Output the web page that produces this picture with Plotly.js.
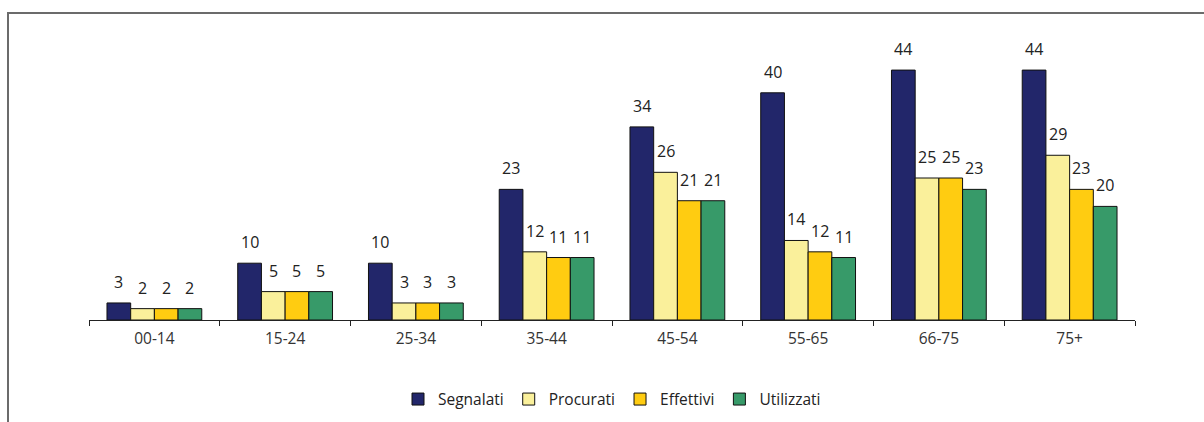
<!DOCTYPE html>
<html>
<head>
<meta charset="utf-8">
<script src="https://cdn.plot.ly/plotly-3.0.1.min.js"></script>
<style>
  html, body { margin: 0; padding: 0; background: #fff; }
  #wrap { position: relative; width: 1204px; height: 422px; }
  #chart { position: absolute; left: 0; top: 0; width: 1204px; height: 422px; }
  #frame { position: absolute; left: 7px; top: 12px; width: 1197px; height: 410px;
           border-top: 2px solid #6b6b6b; border-left: 2px solid #6b6b6b; pointer-events: none; }
</style>
</head>
<body>
<div id="wrap">
  <div id="chart"></div>
  <div id="frame"></div>
</div>
<script>
const categories = ["00-14", "15-24", "25-34", "35-44", "45-54", "55-65", "66-75", "75+"];
const segnalati  = [3, 10, 10, 23, 34, 40, 44, 44];
const procurati  = [2, 5, 3, 12, 26, 14, 25, 29];
const effettivi  = [2, 5, 3, 11, 21, 12, 25, 23];
const utilizzati = [2, 5, 3, 11, 21, 11, 23, 20];

const seriesNames = ["Segnalati", "Procurati", "Effettivi", "Utilizzati"];
const seriesVals = [segnalati, procurati, effettivi, utilizzati];
const seriesColors = ["#22266a", "#faf09b", "#ffcc11", "#379a69"];

const fontFam = "'Open Sans', sans-serif";
const BARGAP = 0.275;

const traces = seriesNames.map((n, i) => ({
  type: "bar",
  name: n,
  x: categories,
  y: seriesVals[i],
  marker: { color: seriesColors[i], line: { color: "#111", width: 1 } },
  hoverinfo: "x+y+name"
}));

// value labels above each bar, placed through the category axis scale
const nS = seriesNames.length;
const barW = (1 - BARGAP) / nS;
const annotations = [];
seriesVals.forEach((vals, s) => {
  const off = -(1 - BARGAP) / 2 + barW * (s + 0.5);
  vals.forEach((v, c) => {
    annotations.push({
      x: c + off, y: v, xref: "x", yref: "y",
      text: String(v), showarrow: false,
      yanchor: "bottom", yshift: 8,
      font: { family: fontFam, size: 16, color: "#222" }
    });
  });
});

const layout = {
  width: 1204,
  height: 422,
  margin: { l: 89, r: 69, t: 36, b: 102, autoexpand: false },
  paper_bgcolor: "rgba(0,0,0,0)",
  plot_bgcolor: "rgba(0,0,0,0)",
  barmode: "group",
  bargap: BARGAP,
  bargroupgap: 0,
  font: { family: fontFam, size: 14, color: "#333" },
  xaxis: {
    type: "category",
    showline: true,
    linecolor: "#222",
    linewidth: 1,
    ticks: "outside",
    tickson: "boundaries",
    ticklen: 5,
    tickcolor: "#222",
    showgrid: false,
    zeroline: false,
    automargin: false,
    ticklabelstandoff: 4,
    tickfont: { family: fontFam, size: 15.5, color: "#333" }
  },
  yaxis: {
    range: [0, 50],
    visible: false,
    showgrid: false,
    zeroline: false
  },
  annotations: annotations,
  showlegend: true,
  legend: {
    orientation: "h",
    x: 0.5,
    xanchor: "center",
    y: -0.22,
    yanchor: "top",
    font: { family: fontFam, size: 15.5, color: "#222" },
    itemwidth: 30,
    traceorder: "normal"
  }
};

Plotly.newPlot("chart", traces, layout, { displayModeBar: false, staticPlot: true });
</script>
</body>
</html>
